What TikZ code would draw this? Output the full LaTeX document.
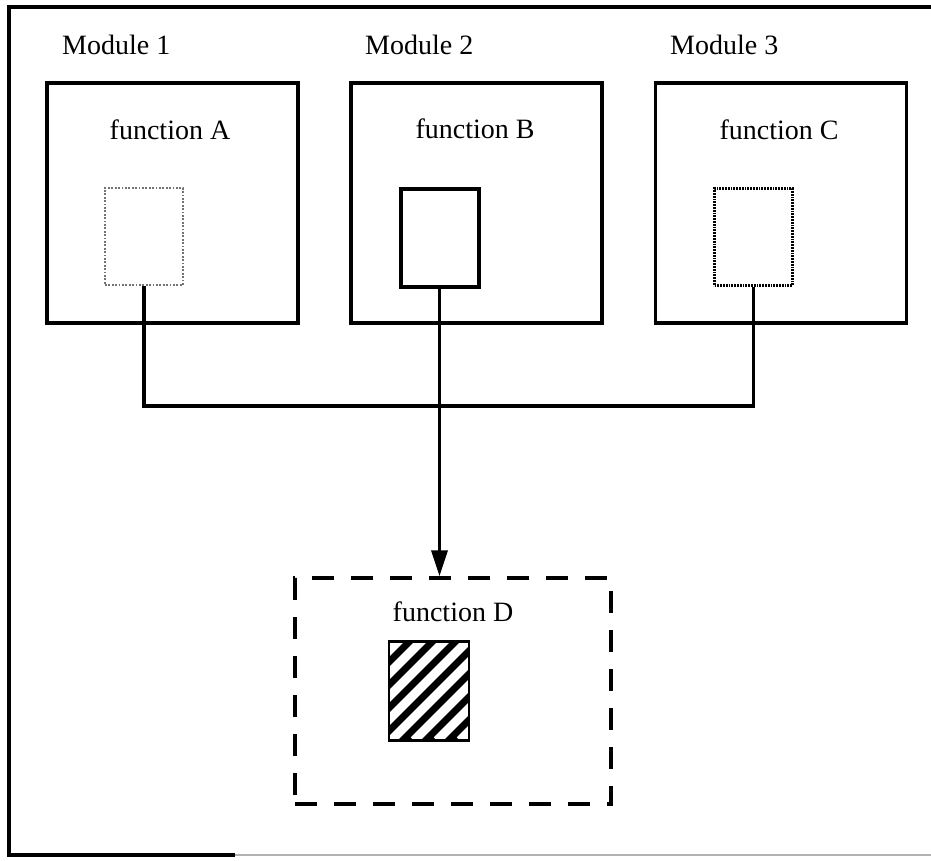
\documentclass[tikz,border=0pt]{standalone}
\usepackage{fontspec}
\setmainfont{Liberation Serif}
\usetikzlibrary{arrows.meta,calc}
\begin{document}
\begin{tikzpicture}[x=1pt,y=-1pt,
  lbl/.style={font=\fontsize{28}{32}\selectfont, inner sep=0pt},
  modbox/.style={draw, line width=3.5pt, minimum width=251pt, minimum height=240pt, inner sep=0pt},
  fnbox/.style={minimum width=78pt, minimum height=97pt, inner sep=0pt},
  dotA/.style={fnbox, draw=black!55, line width=2.2pt, dash pattern=on 1.8pt off 1.6pt},
  solidB/.style={fnbox, draw, line width=4pt},
  dotC/.style={fnbox, draw, line width=2.6pt, dash pattern=on 1.8pt off 1pt},
  dbox/.style={draw, line width=3.5pt, dash pattern=on 22pt off 17pt, minimum width=316pt, minimum height=226pt, inner sep=0pt},
  wire/.style={line width=3.5pt}
]
\useasboundingbox (0,0) rectangle (931,861);
% outer frame (right side beyond the picture)
\draw[line width=4pt] (945,7) -- (9,7) -- (9,855) -- (235,855);
\draw[line width=2.5pt, black!30] (235,855) -- (945,855);

% module labels
\node[lbl, anchor=base west] (l1) at (62,55) {Module 1};
\node[lbl, anchor=base west] (l2) at (365,55) {Module 2};
\node[lbl, anchor=base west] (l3) at (670,55) {Module 3};

% module boxes
\node[modbox] (m1) at (172.5,203) {};
\node[modbox] (m2) at (476.5,203) {};
\node[modbox] (m3) at (781,203) {};

% function labels
\node[lbl, anchor=base] (ta) at (170,140) {function A};
\node[lbl, anchor=base] (tb) at (475,139) {function B};
\node[lbl, anchor=base] (tc) at (779,140) {function C};

% function boxes
\node[dotA] (fa) at (144,236.5) {};
\node[solidB] (fb) at (439.5,238) {};
\node[dotC] (fc) at (753.5,237) {};

% function D
\node[dbox] (fd) at (453,691) {};
\node[lbl, anchor=base] (td) at (453,621) {function D};
\node[fnbox, fill=black, draw, line width=2pt] (hd) at (429,691) {};
\begin{scope}
  \clip (hd.south west) rectangle (hd.north east);
  \foreach \k in {-5,...,10} {
    \draw[white, line width=9pt] ($(hd.south west)+(\k*23-90,0)$) -- ++(140,-140);
  }
\end{scope}
\draw[line width=2.5pt] (hd.south west) rectangle (hd.north east);

% connectors
\draw[wire] (fa.south) -- ++(0,120) coordinate (ja) -| (fc.south);
\draw[wire, -{Triangle[length=26pt,width=16pt]}] (fb.south) -- (fb.south |- fd.north);
\end{tikzpicture}
\end{document}
